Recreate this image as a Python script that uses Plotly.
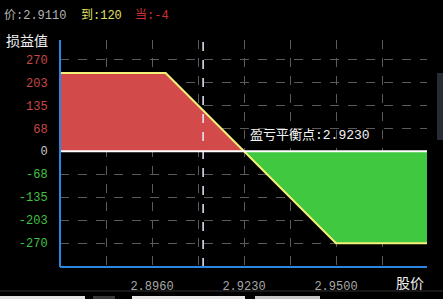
import plotly.graph_objects as go

# ---- data ----
price_pts = [2.869, 2.900, 2.923, 2.950, 2.977]
pnl_pts = [230, 230, 0, -270, -270]
breakeven = 2.9230
current_price = 2.9110
x_grid = [2.8825, 2.8960, 2.9095, 2.9230, 2.9365, 2.9500, 2.9635]
x_labels = ["", "2.8960", "", "2.9230", "", "2.9500", ""]
y_ticks = [270, 202.5, 135, 67.5, 0, -67.5, -135, -202.5, -270]
y_labels = ["270", "203", "135", "68", "0", "-68", "-135", "-203", "-270"]
x_range = [2.869, 2.9767]
y_range = [-340, 327]

W, H = 443, 299
L, R, T, B = 60, 427, 40, 267

def px(X):
    return (X - L) / (R - L)

def py(Y):
    return (B - Y) / (B - T)

# split into profit / loss parts
pos_x = [x for x, y in zip(price_pts, pnl_pts) if y >= 0]
pos_y = [y for y in pnl_pts if y >= 0]
neg_x = [x for x, y in zip(price_pts, pnl_pts) if y <= 0]
neg_y = [y for y in pnl_pts if y <= 0]

ycols = []
for v in y_ticks:
    if v > 0:
        ycols.append("#c84848")
    elif v < 0:
        ycols.append("#40c040")
    else:
        ycols.append("#c8c8c8")
ytext = [f"<span style='color:{c}'>{t}</span>" for t, c in zip(y_labels, ycols)]

fig = go.Figure()
fig.add_trace(go.Scatter(x=pos_x, y=pos_y, fill="tozeroy", mode="none",
                         fillcolor="#d24a4a", hoverinfo="skip"))
fig.add_trace(go.Scatter(x=neg_x, y=neg_y, fill="tozeroy", mode="none",
                         fillcolor="#40c840", hoverinfo="skip"))
fig.add_trace(go.Scatter(x=price_pts, y=pnl_pts, mode="lines",
                         line=dict(color="#f4f078", width=2), hoverinfo="skip"))
fig.add_trace(go.Scatter(x=x_range, y=[0, 0], mode="lines",
                         line=dict(color="#ffffff", width=2), hoverinfo="skip"))

shapes = [
    dict(type="line", xref="x", yref="paper", x0=current_price, x1=current_price,
         y0=0, y1=1, line=dict(color="#e8ecff", width=1.5, dash="dash"), layer="above"),
    # axes
    dict(type="line", xref="paper", yref="paper", x0=0, x1=0, y0=0, y1=1,
         line=dict(color="#2a86e0", width=2)),
    dict(type="line", xref="paper", yref="paper", x0=0, x1=1, y0=0, y1=0,
         line=dict(color="#2a86e0", width=2)),
    # bottom UI strip
    dict(type="line", xref="paper", yref="paper", x0=px(0), x1=px(443), y0=py(291), y1=py(291),
         line=dict(color="#303030", width=1)),
    dict(type="rect", xref="paper", yref="paper", x0=px(0), x1=px(85), y0=py(299), y1=py(296),
         fillcolor="#e4e4e4", line=dict(width=0)),
    dict(type="rect", xref="paper", yref="paper", x0=px(93), x1=px(115), y0=py(299), y1=py(296),
         fillcolor="#3a3a3a", line=dict(width=0)),
    dict(type="rect", xref="paper", yref="paper", x0=px(132), x1=px(245), y0=py(299), y1=py(296),
         fillcolor="#e8e8e8", line=dict(width=0)),
    dict(type="rect", xref="paper", yref="paper", x0=px(255), x1=px(320), y0=py(299), y1=py(296),
         fillcolor="#c8c8c8", line=dict(width=0)),
    # right side widget
    dict(type="rect", xref="paper", yref="paper", x0=px(437), x1=px(445), y0=py(140), y1=py(73),
         fillcolor="#262b34", line=dict(width=0)),
]

font = "Liberation Mono, Noto Sans CJK SC, DejaVu Sans Mono, monospace"
cjk = "Noto Sans CJK SC, sans-serif"
annotations = [
    dict(xref="paper", yref="paper", x=px(2), y=py(15), xanchor="left", yanchor="middle",
         showarrow=False, font=dict(size=12, color="#b4b4b4", family=font), text="价:2.9110"),
    dict(xref="paper", yref="paper", x=px(79), y=py(15), xanchor="left", yanchor="middle",
         showarrow=False, font=dict(size=12, color="#e0e060", family=font), text="到:120"),
    dict(xref="paper", yref="paper", x=px(133), y=py(15), xanchor="left", yanchor="middle",
         showarrow=False, font=dict(size=12, color="#d03030", family=font), text="当:-4"),
    dict(xref="paper", yref="paper", x=px(4), y=py(40), xanchor="left", yanchor="middle",
         showarrow=False, font=dict(size=14, color="#f0f0f0", family=cjk), text="损益值"),
    dict(xref="paper", yref="paper", x=px(426), y=py(282), xanchor="right", yanchor="middle",
         showarrow=False, font=dict(size=14, color="#f0f0f0", family=cjk), text="股价"),
    dict(xref="paper", yref="y", x=px(248), y=0, xanchor="left", yanchor="bottom", yshift=6,
         showarrow=False, font=dict(size=13, color="#f4f4f4", family=font),
         text=f"盈亏平衡点:{breakeven:.4f}"),
]

fig.update_layout(
    width=W, height=H,
    margin=dict(l=L, r=W - R, t=T, b=H - B, pad=0),
    paper_bgcolor="#000000", plot_bgcolor="#000000",
    showlegend=False,
    shapes=shapes, annotations=annotations,
    font=dict(family=font),
)
fig.update_xaxes(range=x_range, tickvals=x_grid, ticktext=x_labels, automargin=False,
                 showgrid=True, gridcolor="#5a5a5a", griddash="dash", gridwidth=1,
                 zeroline=False, showline=False,
                 ticks="outside", ticklen=8, tickcolor="rgba(0,0,0,0)",
                 tickfont=dict(size=12, color="#a8a8a8", family=font))
fig.update_yaxes(range=y_range, tickvals=y_ticks, ticktext=ytext, automargin=False,
                 showgrid=True, gridcolor="#5a5a5a", griddash="dash", gridwidth=1,
                 zeroline=False, showline=False,
                 ticks="outside", ticklen=9, tickcolor="rgba(0,0,0,0)",
                 tickfont=dict(size=12, family=font))

fig.write_html("out.html")
